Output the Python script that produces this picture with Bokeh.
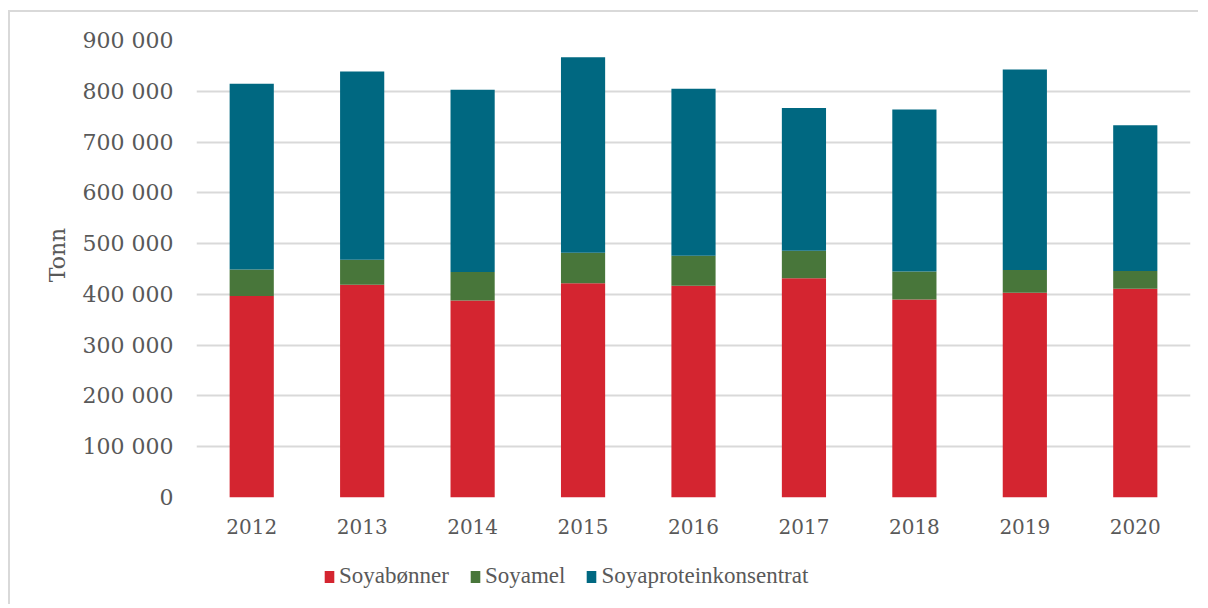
from bokeh.plotting import figure
from bokeh.layouts import column
from bokeh.models import ColumnDataSource, FixedTicker, Legend, LegendItem, FactorRange
from bokeh.embed import file_html
from bokeh.resources import INLINE

years = ["2012", "2013", "2014", "2015", "2016", "2017", "2018", "2019", "2020"]
soyabonner = [397000, 419000, 388000, 422000, 417000, 432000, 390000, 403000, 411000]
soyamel = [52000, 49000, 56000, 60000, 59000, 54000, 55000, 45000, 35000]
spc = [366000, 371000, 359000, 385000, 329000, 281000, 319000, 395000, 287000]
series_names = ["Soyabønner", "Soyamel", "Soyaproteinkonsentrat"]
colors = ["#D42530", "#48763A", "#006881"]
y_ticks = [0, 100000, 200000, 300000, 400000, 500000, 600000, 700000, 800000, 900000]

src = ColumnDataSource(dict(year=years, a=soyabonner, b=soyamel, c=spc))

p = figure(x_range=FactorRange(*years, range_padding=0), y_range=(0, 900000),
           width=1190, height=530, output_backend="svg", toolbar_location=None,
           min_border_left=186, min_border_right=10, min_border_top=28, min_border_bottom=45)
p.styles = {"border-left": "2px solid #d9d9d9", "border-top": "2px solid #d9d9d9",
            "margin-left": "8px", "margin-top": "10px"}
p.outline_line_color = None

rs = p.vbar_stack(["a", "b", "c"], x="year", width=0.4, color=colors, source=src, line_color=None)

p.xgrid.grid_line_color = None
p.ygrid.grid_line_color = "#d9d9d9"
p.ygrid.grid_line_width = 2
p.yaxis.ticker = FixedTicker(ticks=y_ticks)
p.yaxis.major_label_overrides = {t: (f"{t:,}".replace(",", " ")) for t in y_ticks}

for ax in (p.xaxis[0], p.yaxis[0]):
    ax.axis_line_color = None
    ax.major_tick_line_color = None
    ax.minor_tick_line_color = None
    ax.major_label_text_font = "DejaVu Serif"
    ax.major_label_text_color = "#595959"
p.yaxis.major_label_text_font_size = "22px"
p.yaxis.major_label_standoff = 17
p.xaxis.major_label_text_font_size = "20px"
p.xaxis.major_label_standoff = 15

p.yaxis.axis_label = "\u00a0\u00a0\u00a0\u00a0Tonn"
p.yaxis.axis_label_text_font = "DejaVu Serif"
p.yaxis.axis_label_text_font_style = "normal"
p.yaxis.axis_label_text_font_size = "22px"
p.yaxis.axis_label_text_color = "#595959"
p.yaxis.axis_label_standoff = 10

# legend strip below the chart (its frame aligns with the chart's frame)
q = figure(width=1190, height=64, output_backend="svg", toolbar_location=None,
           x_range=(0, 1), y_range=(0, 1), min_border=0)
q.styles = {"border-left": "2px solid #d9d9d9", "margin-left": "8px"}
q.outline_line_color = None
q.axis.visible = False
q.grid.visible = False
leg_rs = [q.vbar(x=[-10], top=[0], width=0.1, color=c, line_color=None) for c in colors]

legend = Legend(items=[LegendItem(label=n, renderers=[r]) for n, r in zip(series_names, leg_rs)],
                orientation="horizontal", location=(127, 15), padding=0, margin=0,
                glyph_width=12, glyph_height=15, label_standoff=4, spacing=20,
                label_text_font="Liberation Serif", label_text_font_size="23px",
                label_text_color="#595959", label_height=20, border_line_color=None,
                background_fill_alpha=0)
q.add_layout(legend)

open("out.html", "w").write(file_html(column(p, q, spacing=0), INLINE))
